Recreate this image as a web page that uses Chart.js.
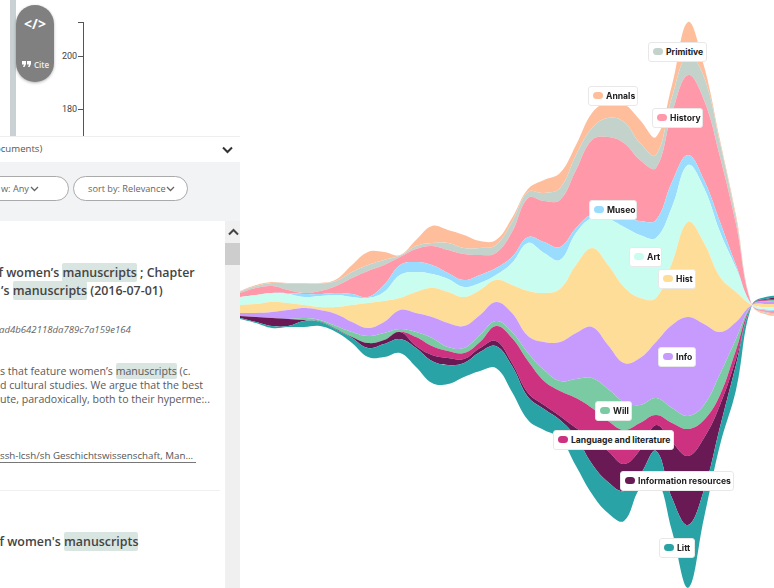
<!DOCTYPE html>
<html>
<head>
<meta charset="utf-8">
<script src="https://cdn.jsdelivr.net/npm/chart.js@4"></script>
<style>
    html, body { margin: 0; padding: 0; width: 774px; height: 588px; overflow: hidden; background: #fff; font-family: "Open Sans", sans-serif; }
    #stream { position: absolute; left: 240px; top: 0; width: 544px; height: 588px; }
    .tag { position: absolute; box-sizing: border-box; height: 20px; background: #fff; border: 1px solid #e8e8e8; border-radius: 3px; font: 700 8.6px/18px Inter, sans-serif; color: #222; white-space: nowrap; padding-left: 4px; }
    .tag i { display: inline-block; width: 10px; height: 7px; border-radius: 4px; margin-right: 3px; vertical-align: 0; }
    #panel { position: absolute; left: 0; top: 0; width: 240px; height: 588px; overflow: hidden; background: #fff; }
    #panel div, #panel span.abs, #panel svg { position: absolute; }
    .line { white-space: nowrap; color: #555; }
    .title { font-weight: 600; font-size: 12.4px; color: #444; }
    .body { font-size: 10.6px; color: #5a5a5a; }
    mark { background: #d9e5e1; color: inherit; border-radius: 2px; padding: 1px 0; }
    .pill { box-sizing: border-box; height: 25px; top: 176px; border: 1px solid #aaa; border-radius: 13px; background: #fff; font-size: 9.2px; line-height: 23px; color: #666; white-space: nowrap; }
</style>
</head>
<body>
<canvas id="stream" width="544" height="588"></canvas>

<div class="tag" style="left:648px;top:42px;width:59px"><i style="background:#c3d3cc"></i>Primitive</div>
<div class="tag" style="left:588px;top:86px;width:50px"><i style="background:#ffbe9b"></i>Annals</div>
<div class="tag" style="left:652px;top:108px;width:51px"><i style="background:#ff98a9"></i>History</div>
<div class="tag" style="left:589px;top:200px;width:48px"><i style="background:#9adcfe"></i>Museo</div>
<div class="tag" style="left:629px;top:247px;width:33px"><i style="background:#c9fdf0"></i>Art</div>
<div class="tag" style="left:658px;top:269px;width:38px"><i style="background:#fddd98"></i>Hist</div>
<div class="tag" style="left:658px;top:347px;width:38px"><i style="background:#c79bfd"></i>Info</div>
<div class="tag" style="left:595px;top:401px;width:37px"><i style="background:#7acba3"></i>Will</div>
<div class="tag" style="left:553px;top:430px;width:121px"><i style="background:#cc327f"></i>Language and literature</div>
<div class="tag" style="left:620px;top:471px;width:114px"><i style="background:#691a55"></i>Information resources</div>
<div class="tag" style="left:659px;top:538px;width:36px"><i style="background:#29a3a5"></i>Litt</div>

<div id="panel">
    <div style="left:10px;top:0;width:6px;height:136px;background:#c9d1d5"></div>
    <div style="left:16px;top:5px;width:38px;height:77px;border-radius:19px;background:#808080;box-shadow:0 1px 3px rgba(0,0,0,.3)"></div>
    <div style="left:16px;top:14px;width:38px;text-align:center;color:#fff;font:700 14px 'Open Sans'">&lt;/&gt;</div>
    <svg style="left:22px;top:61px" width="9" height="7"><path d="M0 0 H4 V3 L2.5 6 H1 L2 3.5 H0 Z M5 0 H9 V3 L7.5 6 H6 L7 3.5 H5 Z" fill="#fff"/></svg>
    <div style="left:34px;top:59px;color:#eee;font:600 8px 'Open Sans'">Cite</div>

    <div style="left:83px;top:22px;width:1px;height:114px;background:#555"></div>
    <div style="left:78px;top:22px;width:5px;height:1px;background:#555"></div>
    <div style="left:78px;top:56px;width:5px;height:1px;background:#555"></div>
    <div style="left:78px;top:109px;width:5px;height:1px;background:#555"></div>
    <div style="left:62px;top:51px;font:9px Roboto;color:#444">200</div>
    <div style="left:62px;top:104px;font:9px Roboto;color:#444">180</div>

    <div style="left:0;top:136px;width:240px;height:1px;background:#eee"></div>
    <div class="line" style="left:-5px;top:142px;font-size:9.6px">ocuments)</div>
    <svg style="left:222px;top:146px" width="11" height="8"><path d="M1 1.5 L5.5 6 L10 1.5" fill="none" stroke="#333" stroke-width="2"/></svg>

    <div style="left:0;top:162px;width:240px;height:59px;background:#f2f3f5"></div>
    <div class="pill" style="left:-30px;width:99px;padding-left:30px">w: Any</div>
    <svg style="left:30px;top:186px" width="9" height="6"><path d="M1 1 L4.5 4.5 L8 1" fill="none" stroke="#666" stroke-width="1.3"/></svg>
    <div class="pill" style="left:73px;width:115px;padding-left:14px">sort by: Relevance</div>
    <svg style="left:166px;top:186px" width="9" height="6"><path d="M1 1 L4.5 4.5 L8 1" fill="none" stroke="#666" stroke-width="1.3"/></svg>

    <div style="left:225px;top:221px;width:15px;height:367px;background:#f0f0f0"></div>
    <svg style="left:228px;top:228px" width="11" height="8"><path d="M1 6.5 L5.5 2 L10 6.5" fill="none" stroke="#444" stroke-width="2"/></svg>
    <div style="left:225px;top:243px;width:15px;height:22px;background:#cdcdcd"></div>

    <div class="line title" style="left:-9px;top:264px">of women&rsquo;s <mark>manuscripts</mark> ; Chapter</div>
    <div class="line title" style="left:1px;top:282px">&rsquo;s <mark>manuscripts</mark> (2016-07-01)</div>
    <div class="line" style="left:-1px;top:323px;font-size:9.6px;font-style:italic;color:#666">ad4b642118da789c7a159e164</div>
    <div class="line body" style="left:0;top:364px">s that feature women&rsquo;s <mark>manuscripts</mark> (c.</div>
    <div class="line body" style="left:0;top:378px">d cultural studies. We argue that the best</div>
    <div class="line body" style="left:0;top:392px">ute, paradoxically, both to their hyperme:..</div>
    <div class="line" style="left:0;top:449px;font-size:9.75px">ssh-lcsh/sh Geschichtswissenschaft, Man...</div>
    <div style="left:0;top:462px;width:196px;height:1px;background:#777"></div>
    <div style="left:0;top:490px;width:220px;height:1px;background:#f0f0f0"></div>
    <div class="line title" style="left:-8px;top:533px">of women&#39;s <mark>manuscripts</mark></div>
</div>

<script>
const categories = ['1','2','3','4','5','6','7','8','9','10','11','12','13','14','15','16','17','18','19','20','21','22','23','24','25','26','27','28','29','30','31','32','33','34','35'];

// invisible offset under the stream, so it can wander around the middle
const baseline = [269,265,260,261,261,262,256,245,231,231,235,221,205,204,211,217,220,196,168,158,150,122,94,75,67,100,110,57,0,70,143,198,283,291.5,291.5];

const litt = [1,1,2,1,6,4,2.5,5,9,13,14,19,22,19,14,19,22,26,23,21,18,29,30,31,30,13,27,33,63,28,18,25,0,-2,-2];
const infoResources = [2,5,8,7,1,0.5,0.5,1,5,4,7,2,6,7,4,4,5,3,4,4,4,9,26,31,27,25,26,56,69,52,22,6,0,-1,-1];
const language = [0,0,0,0,0,0,0,0,0,0,0,9,9,7,6,6,15,25,32,24,25,30,30,30,34,27,10,19,27,18,10,9,0,-1,-1];
const will = [0,0,0,0,2,1.5,3,5,7,7,3,5,8,4,5,7,5,6,8,11,10,19,30,32,28,18,17,15,13,15,21,11,0,-1,-1];
const info = [3,4,6,9,10,10,12,10,8,11,19,19,21,24,22,20,19,19,17,28,39,46,51,44,39,47,56,83,99,81,42,17,0,-2.5,-2.5];
const hist = [8,9,10,7,3,3,7,17,25,21,12,21,29,31,29,25,22,28,45,49,53,68,79,80,76,60,44,62,95,81,55,30,0,-3,-3];
const art = [8,9,9,9,8,11,12,8,5,9,23,20,14,13,10,7,5,22,48,40,29,32,30,46,60,63,60,56,57,55,45,24,0,-2.5,-2.5];
const museo = [0,0,0,1,3,2,2,3,1,7,10,10,9,6,7,8,7,6,6,11,13,5,4,7,10,14,18,25,10,8,10,3,0,-1,-1];
const history = [4,7,7,3,1,3,7,16,26,20,8,13,19,23,26,20,15,25,39,41,47,58,74,75,74,61,52,69,80,80,65,41,0,-2,-2];
const primitive = [1.5,2,3,6.5,9.5,7.5,5,6,6,5,1.5,3,3,7,6,7,8,10,6,8,12,15,12,19,21,17,13,16,20,23,14,6,0,-1,-1];
const annals = [0.5,1,1,0.5,0.5,0.5,1.5,7,13,8,0.5,6,17,13,13,7,5,4,3,13,15,10,15,16,18,23,18,12,33,11,3,3,0,-1.5,-1.5];

function layer(label, data, color) {
    return { label, data, backgroundColor: color, borderWidth: 0, pointRadius: 0, tension: 0.4, fill: '-1' };
}

new Chart(document.getElementById('stream').getContext('2d'), {
    type: 'line',
    data: {
        labels: categories,
        datasets: [
            { label: 'offset', data: baseline, borderWidth: 0, pointRadius: 0, tension: 0.4, fill: false },
            layer('Litt', litt, '#29a3a5'),
            layer('Information resources', infoResources, '#691a55'),
            layer('Language and literature', language, '#cc327f'),
            layer('Will', will, '#7acba3'),
            layer('Info', info, '#c79bfd'),
            layer('Hist', hist, '#fddd98'),
            layer('Art', art, '#c9fdf0'),
            layer('Museo', museo, '#9adcfe'),
            layer('History', history, '#ff98a9'),
            layer('Primitive', primitive, '#c3d3cc'),
            layer('Annals', annals, '#ffbe9b'),
        ],
    },
    options: {
        responsive: false,
        animation: false,
        plugins: { legend: { display: false }, tooltip: { enabled: false } },
        scales: {
            x: { display: false, stacked: true },
            y: { display: false, stacked: 'single', min: 0, max: 588 },
        },
    },
});
</script>
</body>
</html>
